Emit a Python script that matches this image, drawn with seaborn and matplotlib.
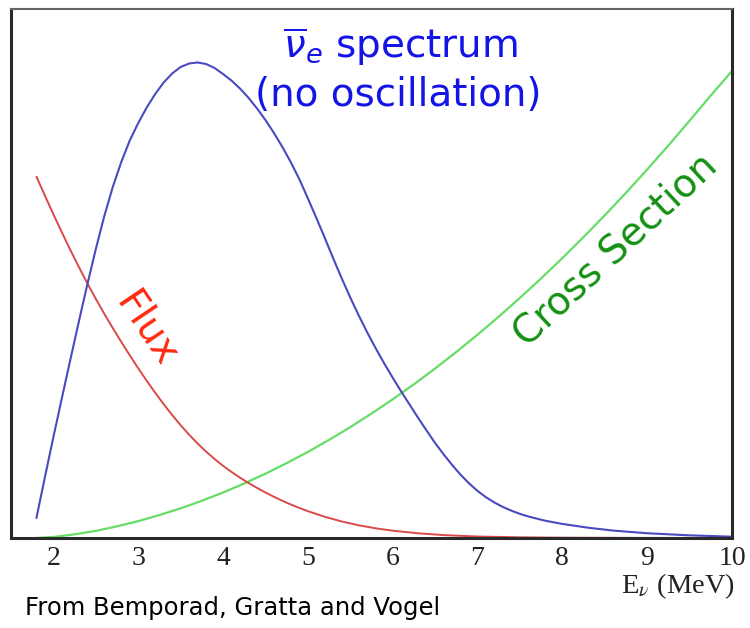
import matplotlib
matplotlib.use("Agg")
import matplotlib.pyplot as plt
from matplotlib.ticker import MultipleLocator
import seaborn as sns
import pandas as pd

# Antineutrino energy (MeV) and curve heights (arbitrary units, 0-100)
spec_E = [1.8, 1.9, 2.0, 2.1, 2.2, 2.3, 2.4, 2.5, 2.6, 2.7, 2.8, 2.9, 3.0, 3.1,
          3.2, 3.3, 3.4, 3.5, 3.6, 3.7, 3.8, 3.9, 4.0, 4.1, 4.2, 4.3, 4.4, 4.5,
          4.6, 4.7, 4.8, 4.9, 5.0, 5.1, 5.2, 5.3, 5.4, 5.5, 5.6, 5.7, 5.8, 5.9,
          6.0, 6.1, 6.2, 6.3, 6.4, 6.5, 6.6, 6.7, 6.8, 6.9, 7.0, 7.1, 7.2, 7.3,
          7.4, 7.5, 7.6, 7.8, 8.0, 8.3, 8.6, 9.0, 9.5, 10.0]
spectrum = [3.78, 11.53, 19.09, 26.47, 33.74, 40.93, 47.92, 54.63, 60.87, 66.35,
            71.08, 75.14, 78.45, 81.38, 83.93, 86.11, 87.81, 89.04, 89.70, 89.89,
            89.60, 88.85, 87.71, 86.46, 84.96, 83.21, 81.21, 79.01, 76.56, 73.90,
            71.00, 67.80, 64.20, 60.50, 56.70, 52.80, 49.05, 45.45, 42.05, 38.85,
            35.85, 33.00, 30.30, 27.70, 25.20, 22.70, 20.30, 17.95, 15.82, 13.82,
            11.97, 10.32, 8.90, 7.70, 6.70, 5.86, 5.16, 4.56, 4.06, 3.26, 2.66,
            1.95, 1.40, 0.90, 0.50, 0.25]

flux_E = [1.8, 1.9, 2.0, 2.1, 2.2, 2.3, 2.4, 2.5, 2.6, 2.7, 2.8, 2.9, 3.0, 3.1,
          3.2, 3.3, 3.4, 3.5, 3.6, 3.7, 3.8, 3.9, 4.0, 4.1, 4.2, 4.3, 4.4, 4.5,
          4.6, 4.7, 4.8, 4.9, 5.0, 5.2, 5.4, 5.6, 5.8, 6.0, 6.3, 6.6, 7.0, 7.5,
          8.0, 9.0, 10.0]
flux = [68.30, 64.71, 61.19, 57.77, 54.44, 51.23, 48.15, 45.20, 42.38, 39.68,
        37.07, 34.54, 32.08, 29.72, 27.45, 25.29, 23.25, 21.32, 19.53, 17.86,
        16.33, 14.93, 13.65, 12.48, 11.40, 10.40, 9.47, 8.60, 7.79, 7.03, 6.33,
        5.67, 5.07, 4.01, 3.12, 2.40, 1.83, 1.38, 0.89, 0.55, 0.28, 0.13, 0.06,
        0.01, 0.0]

xsec_E = [1.8, 2.0, 2.25, 2.5, 2.75, 3.0, 3.25, 3.5, 3.75, 4.0, 4.25, 4.5, 4.75,
          5.0, 5.25, 5.5, 5.75, 6.0, 6.25, 6.5, 6.75, 7.0, 7.25, 7.5, 7.75, 8.0,
          8.25, 8.5, 8.75, 9.0, 9.25, 9.5, 9.75, 10.0]
xsec = [0.0, 0.19, 0.70, 1.34, 2.20, 3.19, 4.34, 5.61, 7.04, 8.60, 10.31, 12.15,
        14.15, 16.28, 18.55, 20.96, 23.53, 26.22, 29.06, 32.04, 35.17, 38.43,
        41.84, 45.39, 49.08, 52.91, 56.89, 61.00, 65.26, 69.66, 74.20, 78.88,
        83.65, 88.28]

x_ticks = [2, 3, 4, 5, 6, 7, 8, 9, 10]

sns.set_style("white")
plt.rcParams["font.family"] = ["DejaVu Sans"]
plt.rcParams["mathtext.fontset"] = "dejavusans"

fig = plt.figure(figsize=(7.5, 6.28), dpi=100)
ax = fig.add_axes([11 / 750, 1 - 538 / 628, (732 - 11) / 750, (538 - 9) / 628])

df_spec = pd.DataFrame({"E": spec_E, "y": spectrum})
df_flux = pd.DataFrame({"E": flux_E, "y": flux})
df_xsec = pd.DataFrame({"E": xsec_E, "y": xsec})

sns.lineplot(data=df_xsec, x="E", y="y", ax=ax, color="#66dd66", lw=1.6)
sns.lineplot(data=df_flux, x="E", y="y", ax=ax, color="#d84a4a", lw=1.4)
sns.lineplot(data=df_spec, x="E", y="y", ax=ax, color="#4a4ac0", lw=1.5)

ax.set_xlim(1.5, 10)
ax.set_ylim(0, 100)
ax.set_xlabel("")
ax.set_ylabel("")
ax.set_yticks([])
ax.set_xticks(x_ticks)
ax.xaxis.set_minor_locator(MultipleLocator(0.2))
ax.tick_params(axis="x", which="major", direction="in", length=8, width=1.2,
               color="#333333", pad=6)
ax.tick_params(axis="x", which="minor", direction="in", length=4, width=1.0,
               color="#333333")
for lbl in ax.get_xticklabels():
    lbl.set_fontfamily("Liberation Serif")
    lbl.set_fontsize(20)
    lbl.set_color("#222222")

for side in ["left", "bottom", "right"]:
    ax.spines[side].set_linewidth(2.2)
    ax.spines[side].set_color("#2a2a2a")
ax.spines["top"].set_linewidth(1.5)
ax.spines["top"].set_color("#666666")

# Curve labels
ax.text(6.09, 92.8, r"$\overline{\nu}_{e}$ spectrum", color="#1414e6",
        fontsize=28, ha="center", va="center")
ax.text(6.07, 83.7, "(no oscillation)", color="#1414e6",
        fontsize=28, ha="center", va="center")
ax.text(3.1, 39.5, "Flux", color="#ff2a10", fontsize=28, rotation=-56,
        ha="center", va="center", rotation_mode="anchor")
ax.text(8.62, 54.5, "Cross Section", color="#139013", fontsize=28, rotation=43,
        ha="center", va="center", rotation_mode="anchor")

fig.text(735 / 750, 1 - 586 / 628, r"E$_\nu$ (MeV)", fontsize=20.5,
         family="Liberation Serif", ha="right", va="center", color="#222222",
         math_fontfamily="stix")
fig.text(25 / 750, 1 - 608 / 628, "From Bemporad, Gratta and Vogel", fontsize=17.5,
         ha="left", va="center", color="black")

fig.savefig("out.png", dpi=100, facecolor="white")
